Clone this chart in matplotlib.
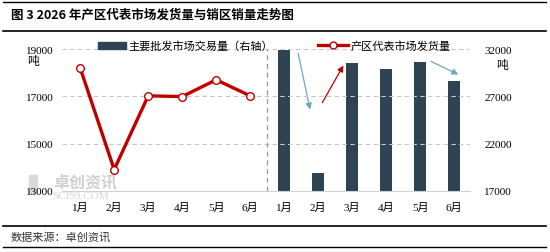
import matplotlib
matplotlib.use('Agg')
import matplotlib.pyplot as plt
from matplotlib.lines import Line2D
from matplotlib.patches import Patch, Rectangle
import numpy as np

plt.rcParams['font.family'] = ['Noto Sans CJK SC', 'DejaVu Sans']

#   Chart data

months = ['1月', '2月', '3月', '4月', '5月', '6月']
shipments = [18200, 13900, 17020, 16990, 17700, 17020]      # 产区代表市场发货量, left axis
wholesale = [31950, 18900, 30500, 29850, 30600, 28600]      # 主要批发市场交易量, right axis

left_ticks = [13000, 15000, 17000, 19000]
right_ticks = [17000, 22000, 27000, 32000]

title = '图 3 2026 年产区代表市场发货量与销区销量走势图'
source = '数据来源：卓创资讯'

RED = '#C00000'
BAR = '#2E4453'
TEAL = '#6FA8B6'
NUMFONT = ['Liberation Serif', 'Noto Sans CJK SC']

fig = plt.figure(figsize=(5.5, 2.53), dpi=100)
ax = fig.add_axes([0.113, 0.242, 0.742, 0.560])
ax2 = ax.twinx()

n = len(months)
x_line = np.arange(n)
x_bar = np.arange(n, 2 * n)

ax.plot(x_line, shipments, color=RED, linewidth=2.4, marker='o',
    markersize=5.5, markerfacecolor='white', markeredgecolor=RED,
    markeredgewidth=1.0, zorder=5)
ax2.bar(x_bar, wholesale, width=0.36, color=BAR, zorder=3)

ax.set_xlim(-0.53, 2 * n - 1 + 0.47)
ax.set_ylim(left_ticks[0], left_ticks[-1])
ax2.set_ylim(right_ticks[0], right_ticks[-1])

ax.set_xticks(np.arange(2 * n))
ax.set_xticklabels(months + months, family=NUMFONT, fontsize=8)
ax.set_yticks(left_ticks)
ax.set_yticklabels([str(v) for v in left_ticks], family=NUMFONT, fontsize=8)
ax2.set_yticks(right_ticks)
ax2.set_yticklabels([str(v) for v in right_ticks], family=NUMFONT, fontsize=8)

ax.tick_params(axis='x', length=0, pad=8)
ax.tick_params(axis='y', length=0, pad=6)
ax2.tick_params(axis='y', length=0, pad=10)

for a in (ax, ax2):
    for s in a.spines.values():
        s.set_visible(False)
ax.spines['bottom'].set_visible(True)
ax.spines['bottom'].set_color('#D0D0D0')

for v in left_ticks[1:]:
    ax.axhline(v, color='#C8C8C8', linestyle=(0, (4, 3)), linewidth=0.8, zorder=0)
ax.axvline(n - 0.5, color='#999999', linestyle=(0, (4, 3)), linewidth=0.9, zorder=1)

ax.patch.set_visible(False)
ax2.set_zorder(0)
ax.set_zorder(1)

# unit labels

fig.text(0.060, 0.755, '吨', fontsize=8.5, ha='center', va='center')
fig.text(0.913, 0.740, '吨', fontsize=8.5, ha='center', va='center')

# trend arrows (annotation, right axis data space)

arrows = [((6.41, 31550), (6.76, 25600), TEAL),
          ((7.12, 26330), (7.74, 30270), RED),
          ((10.32, 30690), (11.12, 29310), TEAL)]
for start, end, col in arrows:
    ax2.annotate('', xy=end, xytext=start,
        arrowprops=dict(arrowstyle='-|>', color=col, lw=0.9,
                        mutation_scale=9, shrinkA=0, shrinkB=0), zorder=6)

# legends

h_bar = Patch(facecolor=BAR, edgecolor=BAR)
fig.legend([h_bar], ['主要批发市场交易量（右轴）'], loc='center left',
    bbox_to_anchor=(0.168, 0.815), frameon=False, fontsize=8,
    handlelength=2.5, handleheight=0.55, handletextpad=0.2, borderpad=0)
h_line = Line2D([], [], color=RED, linewidth=2.4, marker='o', markersize=5,
    markerfacecolor='white', markeredgecolor=RED)
fig.legend([h_line], ['产区代表市场发货量'], loc='center left',
    bbox_to_anchor=(0.568, 0.815), frameon=False, fontsize=8,
    handlelength=2.7, handletextpad=0.2, borderpad=0)

# watermark

fig.add_artist(Rectangle((0.052, 0.235), 0.016, 0.07, color='#DADADA',
    transform=fig.transFigure, zorder=0))
fig.text(0.097, 0.246, '卓创资讯', fontsize=11.5, color='#D0D0D0',
    fontweight='bold', ha='left', va='bottom')
fig.text(0.095, 0.240, 'SCI99.COM', fontsize=8, color='#D6D6D6',
    family=NUMFONT, ha='left', va='top')

# title, source and rule lines

fig.text(0.02, 0.94, title, fontsize=9, fontweight='bold', ha='left', va='center')
fig.text(0.02, 0.06, source, fontsize=8, color='#333333', ha='left', va='center')

for y, lw in [(0.988, 1.0), (0.874, 1.2), (0.103, 1.2), (0.02, 1.0)]:
    fig.add_artist(Line2D([0.006, 0.993], [y, y], color='black', linewidth=lw,
        transform=fig.transFigure))

fig.savefig('out.png', dpi=100)
